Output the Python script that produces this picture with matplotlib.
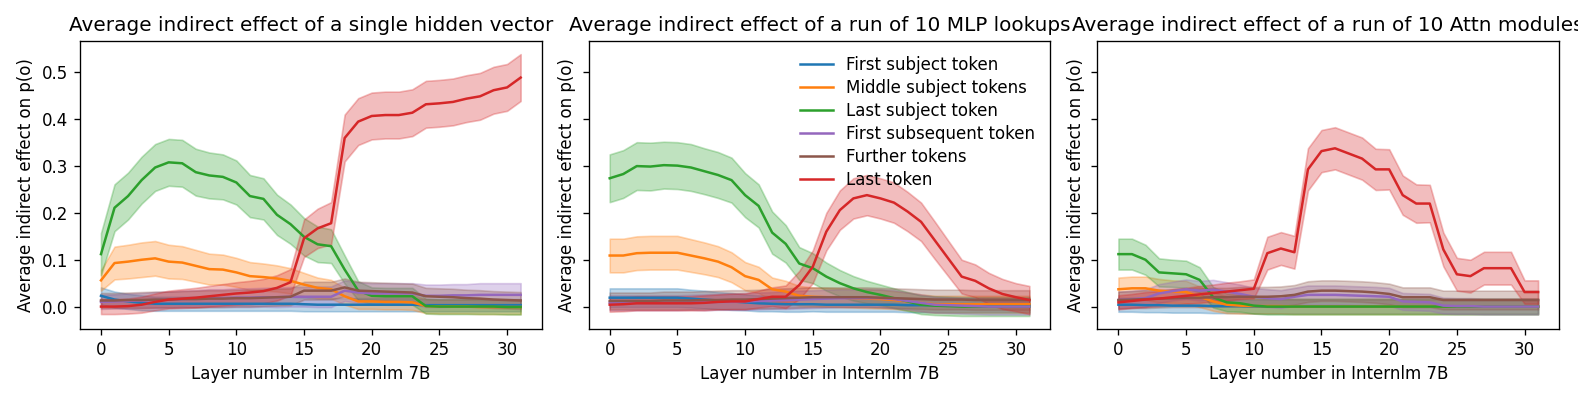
import numpy as np
import matplotlib
matplotlib.use("Agg")
import matplotlib.pyplot as plt

layers = np.arange(32)

labels = ["First subject token", "Middle subject tokens", "Last subject token",
          "First subsequent token", "Further tokens", "Last token"]
colors = ["tab:blue", "tab:orange", "tab:green", "tab:purple", "tab:brown", "tab:red"]

titles = ["Average indirect effect of a single hidden vector",
          "Average indirect effect of a run of 10 MLP lookups",
          "Average indirect effect of a run of 10 Attn modules"]

# ---- panel 1: single hidden vector ----
hid_first = [0.023, 0.015, 0.011, 0.008, 0.006, 0.006, 0.006, 0.006, 0.006, 0.006, 0.006, 0.006, 0.006, 0.006, 0.006, 0.005,
             0.004, 0.004, 0.004, 0.004, 0.004, 0.004, 0.004, 0.004, 0.003, 0.003, 0.003, 0.003, 0.003, 0.003, 0.003, 0.003]
hid_first_err = [0.018, 0.017, 0.016, 0.016, 0.015, 0.015, 0.015, 0.015, 0.015, 0.015, 0.015, 0.015, 0.015, 0.015, 0.015, 0.015,
                 0.014, 0.014, 0.014, 0.014, 0.014, 0.014, 0.014, 0.014, 0.013, 0.013, 0.013, 0.013, 0.013, 0.013, 0.013, 0.013]
hid_middle = [0.056, 0.093, 0.096, 0.100, 0.103, 0.096, 0.094, 0.087, 0.080, 0.079, 0.073, 0.065, 0.063, 0.060, 0.055, 0.047,
              0.040, 0.037, 0.022, 0.011, 0.011, 0.010, 0.010, 0.009, 0.001, 0.000, 0.000, 0.000, -0.001, -0.001, -0.001, -0.001]
hid_middle_err = [0.022, 0.035, 0.036, 0.037, 0.037, 0.036, 0.035, 0.034, 0.033, 0.032, 0.031, 0.030, 0.029, 0.028, 0.027, 0.025,
                  0.022, 0.020, 0.018, 0.016, 0.016, 0.016, 0.016, 0.016, 0.015, 0.015, 0.015, 0.015, 0.015, 0.015, 0.015, 0.015]
hid_last_subj = [0.112, 0.211, 0.236, 0.270, 0.297, 0.308, 0.306, 0.287, 0.280, 0.277, 0.265, 0.236, 0.230, 0.196, 0.176, 0.149,
                 0.133, 0.129, 0.079, 0.034, 0.023, 0.022, 0.022, 0.022, 0.001, 0.000, 0.000, 0.000, 0.000, 0.000, -0.001, -0.001]
hid_last_subj_err = [0.045, 0.050, 0.050, 0.050, 0.050, 0.050, 0.050, 0.050, 0.049, 0.048, 0.047, 0.045, 0.044, 0.043, 0.042, 0.040,
                     0.038, 0.036, 0.030, 0.020, 0.018, 0.018, 0.018, 0.018, 0.016, 0.016, 0.016, 0.016, 0.016, 0.016, 0.016, 0.016]
hid_subseq = [0.010, 0.011, 0.012, 0.013, 0.014, 0.015, 0.016, 0.017, 0.018, 0.018, 0.019, 0.019, 0.020, 0.020, 0.021, 0.021,
              0.021, 0.021, 0.034, 0.030, 0.028, 0.028, 0.028, 0.028, 0.023, 0.023, 0.024, 0.024, 0.025, 0.025, 0.025, 0.025]
hid_subseq_err = [0.015, 0.015, 0.016, 0.016, 0.017, 0.017, 0.018, 0.018, 0.019, 0.019, 0.020, 0.020, 0.020, 0.021, 0.021, 0.021,
                  0.022, 0.022, 0.022, 0.022, 0.022, 0.022, 0.022, 0.022, 0.024, 0.024, 0.024, 0.024, 0.025, 0.025, 0.025, 0.025]
hid_further = [0.013, 0.013, 0.014, 0.014, 0.015, 0.015, 0.016, 0.016, 0.017, 0.017, 0.018, 0.018, 0.019, 0.020, 0.021, 0.034,
               0.034, 0.034, 0.041, 0.034, 0.033, 0.032, 0.031, 0.030, 0.022, 0.021, 0.020, 0.018, 0.017, 0.015, 0.014, 0.013]
hid_further_err = [0.016, 0.016, 0.016, 0.017, 0.017, 0.017, 0.017, 0.018, 0.018, 0.018, 0.018, 0.018, 0.018, 0.018, 0.018, 0.019,
                   0.019, 0.019, 0.019, 0.019, 0.019, 0.019, 0.019, 0.019, 0.018, 0.018, 0.018, 0.018, 0.018, 0.018, 0.018, 0.018]
hid_last = [0.000, 0.000, 0.001, 0.004, 0.010, 0.015, 0.017, 0.019, 0.022, 0.025, 0.028, 0.030, 0.033, 0.040, 0.052, 0.146,
            0.167, 0.178, 0.360, 0.395, 0.407, 0.409, 0.409, 0.414, 0.432, 0.434, 0.437, 0.444, 0.449, 0.462, 0.468, 0.489]
hid_last_err = [0.016, 0.016, 0.016, 0.017, 0.018, 0.019, 0.020, 0.021, 0.022, 0.023, 0.024, 0.025, 0.026, 0.027, 0.028, 0.040,
                0.042, 0.045, 0.050, 0.050, 0.050, 0.050, 0.050, 0.050, 0.050, 0.050, 0.050, 0.050, 0.050, 0.050, 0.050, 0.050]

# ---- panel 2: run of 10 MLP lookups ----
mlp_first = [0.019, 0.019, 0.019, 0.019, 0.019, 0.019, 0.017, 0.015, 0.013, 0.011, 0.009, 0.007, 0.006, 0.005, 0.005, 0.005,
             0.004, 0.004, 0.004, 0.004, 0.004, 0.004, 0.003, 0.003, 0.003, 0.003, 0.003, 0.003, 0.003, 0.003, 0.003, 0.003]
mlp_first_err = [0.020, 0.020, 0.020, 0.020, 0.020, 0.020, 0.019, 0.019, 0.018, 0.018, 0.017, 0.017, 0.016, 0.016, 0.016, 0.015,
                 0.015, 0.015, 0.015, 0.015, 0.015, 0.015, 0.015, 0.015, 0.015, 0.015, 0.015, 0.015, 0.015, 0.015, 0.015, 0.015]
mlp_middle = [0.109, 0.109, 0.114, 0.115, 0.115, 0.115, 0.109, 0.103, 0.096, 0.084, 0.065, 0.057, 0.037, 0.032, 0.023, 0.021,
              0.020, 0.019, 0.018, 0.017, 0.016, 0.014, 0.011, 0.008, 0.005, 0.005, 0.005, 0.005, 0.005, 0.005, 0.005, 0.005]
mlp_middle_err = [0.036, 0.036, 0.036, 0.036, 0.036, 0.036, 0.035, 0.034, 0.033, 0.032, 0.030, 0.028, 0.025, 0.023, 0.021, 0.020,
                  0.020, 0.020, 0.020, 0.020, 0.020, 0.019, 0.019, 0.018, 0.018, 0.018, 0.018, 0.018, 0.018, 0.018, 0.018, 0.018]
mlp_last_subj = [0.274, 0.283, 0.300, 0.299, 0.302, 0.301, 0.297, 0.289, 0.281, 0.270, 0.238, 0.215, 0.158, 0.134, 0.092, 0.082,
                 0.064, 0.050, 0.039, 0.031, 0.025, 0.018, 0.011, 0.004, 0.002, 0.001, 0.000, 0.000, 0.000, 0.000, 0.000, 0.000]
mlp_last_subj_err = [0.051, 0.051, 0.051, 0.051, 0.050, 0.050, 0.050, 0.049, 0.049, 0.048, 0.047, 0.046, 0.045, 0.040, 0.035, 0.032,
                     0.030, 0.028, 0.026, 0.024, 0.022, 0.021, 0.020, 0.020, 0.020, 0.020, 0.020, 0.020, 0.020, 0.020, 0.020, 0.020]
mlp_subseq = [0.008, 0.008, 0.008, 0.008, 0.008, 0.008, 0.009, 0.009, 0.010, 0.010, 0.011, 0.012, 0.013, 0.014, 0.015, 0.016,
              0.017, 0.018, 0.018, 0.018, 0.018, 0.016, 0.012, 0.008, 0.004, 0.003, 0.002, 0.001, 0.000, 0.000, 0.000, 0.000]
mlp_subseq_err = [0.016, 0.016, 0.016, 0.016, 0.016, 0.016, 0.016, 0.017, 0.017, 0.017, 0.018, 0.018, 0.018, 0.019, 0.019, 0.019,
                  0.019, 0.019, 0.019, 0.019, 0.019, 0.019, 0.018, 0.018, 0.017, 0.017, 0.017, 0.017, 0.017, 0.017, 0.017, 0.017]
mlp_further = [0.012, 0.012, 0.012, 0.012, 0.013, 0.013, 0.013, 0.014, 0.014, 0.015, 0.015, 0.016, 0.017, 0.018, 0.019, 0.020,
               0.020, 0.020, 0.020, 0.020, 0.019, 0.018, 0.017, 0.016, 0.015, 0.015, 0.015, 0.014, 0.014, 0.014, 0.014, 0.014]
mlp_further_err = [0.018, 0.018, 0.018, 0.018, 0.019, 0.019, 0.019, 0.019, 0.020, 0.020, 0.020, 0.020, 0.021, 0.021, 0.021, 0.021,
                   0.021, 0.021, 0.021, 0.021, 0.021, 0.021, 0.021, 0.021, 0.021, 0.021, 0.021, 0.021, 0.021, 0.021, 0.021, 0.021]
mlp_last = [0.004, 0.005, 0.007, 0.007, 0.007, 0.007, 0.007, 0.008, 0.010, 0.011, 0.011, 0.016, 0.021, 0.021, 0.046, 0.085,
            0.160, 0.206, 0.231, 0.238, 0.231, 0.222, 0.203, 0.181, 0.142, 0.103, 0.064, 0.055, 0.039, 0.027, 0.020, 0.014]
mlp_last_err = [0.015, 0.015, 0.015, 0.015, 0.015, 0.015, 0.015, 0.016, 0.016, 0.017, 0.017, 0.018, 0.020, 0.024, 0.030, 0.035,
                0.040, 0.042, 0.043, 0.043, 0.043, 0.043, 0.042, 0.041, 0.040, 0.038, 0.036, 0.035, 0.033, 0.032, 0.030, 0.030]

# ---- panel 3: run of 10 Attn modules ----
attn_first = [0.004, 0.004, 0.003, 0.003, 0.002, 0.002, 0.002, 0.001, 0.001, 0.001, 0.000, 0.000, 0.000, 0.000, 0.000, 0.000,
              0.000, 0.000, 0.000, 0.000, 0.000, 0.000, 0.000, 0.000, 0.000, 0.000, 0.000, 0.000, 0.000, 0.000, 0.000, 0.000]
attn_first_err = [0.015, 0.015, 0.015, 0.015, 0.015, 0.015, 0.015, 0.015, 0.015, 0.015, 0.015, 0.015, 0.015, 0.015, 0.015, 0.015,
                  0.015, 0.015, 0.015, 0.015, 0.015, 0.015, 0.015, 0.015, 0.015, 0.015, 0.015, 0.015, 0.015, 0.015, 0.015, 0.015]
attn_middle = [0.037, 0.039, 0.039, 0.034, 0.032, 0.031, 0.021, 0.011, 0.004, 0.002, 0.001, 0.001, 0.001, 0.000, 0.000, 0.000,
               0.000, 0.000, 0.000, 0.000, 0.000, 0.000, 0.000, 0.000, 0.000, 0.000, 0.000, 0.000, 0.000, 0.000, 0.000, 0.000]
attn_middle_err = [0.025, 0.025, 0.025, 0.025, 0.024, 0.024, 0.022, 0.020, 0.018, 0.017, 0.016, 0.016, 0.016, 0.016, 0.016, 0.016,
                   0.016, 0.016, 0.016, 0.016, 0.016, 0.016, 0.016, 0.016, 0.016, 0.016, 0.016, 0.016, 0.016, 0.016, 0.016, 0.016]
attn_last_subj = [0.112, 0.112, 0.100, 0.073, 0.071, 0.069, 0.057, 0.020, 0.009, 0.007, 0.002, 0.000, 0.000, 0.000, 0.000, 0.000,
                  0.000, 0.000, 0.000, 0.000, 0.000, 0.000, 0.000, 0.000, 0.000, 0.000, 0.000, 0.000, 0.000, 0.000, 0.000, 0.000]
attn_last_subj_err = [0.033, 0.033, 0.032, 0.030, 0.029, 0.029, 0.027, 0.022, 0.019, 0.018, 0.017, 0.017, 0.017, 0.017, 0.017, 0.017,
                      0.017, 0.017, 0.017, 0.017, 0.017, 0.017, 0.017, 0.017, 0.017, 0.017, 0.017, 0.017, 0.017, 0.017, 0.017, 0.017]
attn_subseq = [0.014, 0.016, 0.018, 0.028, 0.033, 0.037, 0.034, 0.036, 0.032, 0.027, 0.021, 0.018, 0.016, 0.021, 0.025, 0.025,
               0.025, 0.024, 0.023, 0.022, 0.021, 0.011, 0.010, 0.009, 0.002, 0.001, 0.001, 0.000, 0.000, 0.000, 0.000, 0.000]
attn_subseq_err = [0.018, 0.018, 0.019, 0.020, 0.020, 0.021, 0.021, 0.021, 0.020, 0.020, 0.019, 0.019, 0.019, 0.019, 0.020, 0.020,
                   0.020, 0.020, 0.020, 0.020, 0.019, 0.018, 0.018, 0.018, 0.017, 0.017, 0.017, 0.017, 0.017, 0.017, 0.017, 0.017]
attn_further = [0.014, 0.015, 0.016, 0.017, 0.018, 0.019, 0.019, 0.020, 0.020, 0.021, 0.021, 0.021, 0.022, 0.025, 0.032, 0.034,
                0.034, 0.033, 0.032, 0.030, 0.027, 0.020, 0.020, 0.020, 0.014, 0.014, 0.014, 0.014, 0.014, 0.014, 0.014, 0.014]
attn_further_err = [0.018, 0.018, 0.019, 0.019, 0.019, 0.020, 0.020, 0.020, 0.020, 0.021, 0.021, 0.021, 0.021, 0.021, 0.022, 0.022,
                    0.022, 0.022, 0.022, 0.022, 0.022, 0.021, 0.021, 0.021, 0.020, 0.020, 0.020, 0.020, 0.020, 0.020, 0.020, 0.020]
attn_last = [0.009, 0.012, 0.015, 0.017, 0.020, 0.023, 0.026, 0.029, 0.032, 0.035, 0.038, 0.114, 0.124, 0.116, 0.293, 0.332,
             0.338, 0.327, 0.316, 0.293, 0.293, 0.238, 0.220, 0.220, 0.122, 0.069, 0.065, 0.082, 0.082, 0.082, 0.031, 0.031]
attn_last_err = [0.015, 0.015, 0.016, 0.016, 0.017, 0.017, 0.018, 0.018, 0.019, 0.019, 0.020, 0.035, 0.035, 0.035, 0.045, 0.045,
                 0.045, 0.045, 0.045, 0.044, 0.043, 0.042, 0.041, 0.040, 0.036, 0.035, 0.035, 0.035, 0.035, 0.035, 0.025, 0.025]

panels = [
    [(hid_first, hid_first_err), (hid_middle, hid_middle_err), (hid_last_subj, hid_last_subj_err),
     (hid_subseq, hid_subseq_err), (hid_further, hid_further_err), (hid_last, hid_last_err)],
    [(mlp_first, mlp_first_err), (mlp_middle, mlp_middle_err), (mlp_last_subj, mlp_last_subj_err),
     (mlp_subseq, mlp_subseq_err), (mlp_further, mlp_further_err), (mlp_last, mlp_last_err)],
    [(attn_first, attn_first_err), (attn_middle, attn_middle_err), (attn_last_subj, attn_last_subj_err),
     (attn_subseq, attn_subseq_err), (attn_further, attn_further_err), (attn_last, attn_last_err)],
]

fig, axes = plt.subplots(1, 3, figsize=(1578 / 120, 395 / 120), dpi=120, sharey=True)
fig.subplots_adjust(left=0.0507, right=0.988, bottom=0.167, top=0.896, wspace=0.102)

for ax, title, series in zip(axes, titles, panels):
    for (mean, err), lab, col in zip(series, labels, colors):
        mean = np.array(mean)
        err = np.array(err)
        ax.plot(layers, mean, color=col, label=lab)
        ax.fill_between(layers, mean - err, mean + err, color=col, alpha=0.3)
    ax.set_title(title)
    ax.set_xlabel("Layer number in Internlm 7B")
    ax.set_ylabel("Average indirect effect on p(o)")
    ax.set_xticks([0, 5, 10, 15, 20, 25, 30])

# legend only on the middle panel, no frame
axes[1].legend(loc="upper right", frameon=False, labelspacing=0.3)

fig.savefig("out.png", dpi=120)
